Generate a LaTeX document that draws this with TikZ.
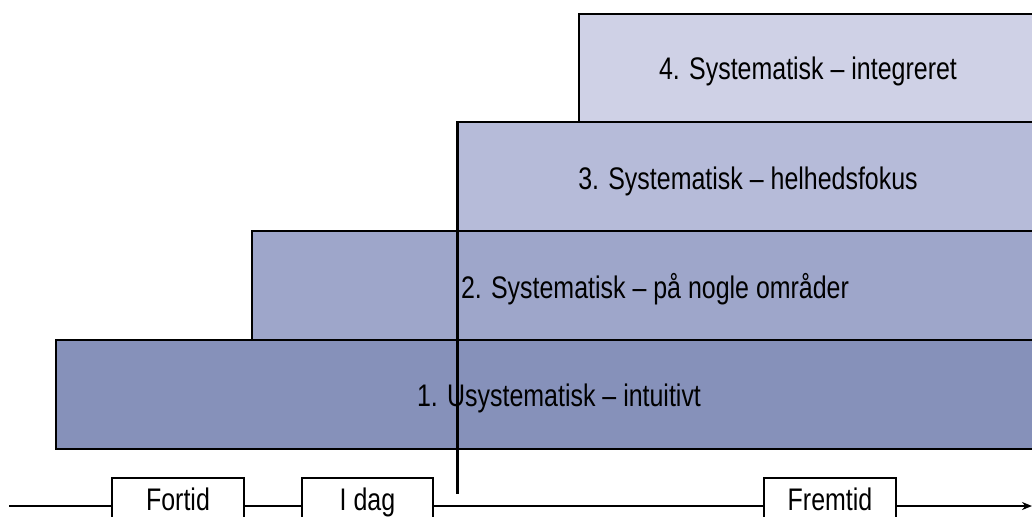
\documentclass[tikz,border=0pt]{standalone}
\usepackage{fontspec}
\setmainfont{Liberation Sans}[FakeStretch=0.8]
\usetikzlibrary{arrows.meta}
\definecolor{lvlA}{HTML}{8691BA}
\definecolor{lvlB}{HTML}{9EA6CA}
\definecolor{lvlC}{HTML}{B6BBD9}
\definecolor{lvlD}{HTML}{CFD1E6}
\tikzset{
  level/.style={draw=black, line width=1.2pt},
  lbl/.style={font=\fontsize{15.6}{18}\selectfont, inner sep=0pt},
  era/.style={draw=black, fill=white, line width=1.1pt},
  axis/.style={draw=black, line width=1.1pt},
}
\begin{document}
\begin{tikzpicture}[x=0.5pt, y=-0.5pt]
\useasboundingbox (0,0) rectangle (1032,516);
% stacked maturity levels, running off the right edge
\path[level, fill=lvlD] (579,14) rectangle (1060,122);
\path[level, fill=lvlC] (457,122) rectangle (1060,231);
\path[level, fill=lvlB] (252,231) rectangle (1060,340);
\path[level, fill=lvlA] (56,340) rectangle (1060,449);
\node[lbl, anchor=base] (l4) at (808,79) {4. Systematisk – integreret};
\node[lbl, anchor=base] (l3) at (748,189) {3. Systematisk – helhedsfokus};
\node[lbl, anchor=base] (l2) at (655,298) {2. Systematisk – på nogle områder};
\node[lbl, anchor=base] (l1) at (559,406) {1. Usystematisk – intuitivt};
% "today" marker
\coordinate (mtop) at (457.5,122);
\coordinate (mbot) at (457.5,494);
\draw[axis] (mtop) -- (mbot);
% time axis
\coordinate (ax0) at (9,506);
\coordinate (ax1) at (1032,506);
\path[era] (112,530) -- (112,478) -- (244,478) -- (244,530);
\path[era] (302,530) -- (302,478) -- (433,478) -- (433,530);
\path[era] (764,530) -- (764,478) -- (896,478) -- (896,530);
\node[lbl, anchor=base] (fortid) at (178,510) {Fortid};
\node[lbl, anchor=base] (idag) at (367.5,510) {I dag};
\node[lbl, anchor=base] (fremtid) at (830,510) {Fremtid};
\coordinate (f0) at (112,506);
\coordinate (f1) at (244,506);
\coordinate (d0) at (302,506);
\coordinate (d1) at (433,506);
\coordinate (r0) at (764,506);
\coordinate (r1) at (896,506);
\draw[axis] (ax0) -- (f0);
\draw[axis] (f1) -- (d0);
\draw[axis] (d1) -- (r0);
\draw[axis, -{Stealth[length=5pt, width=4pt]}] (r1) -- (ax1);
\end{tikzpicture}
\end{document}
